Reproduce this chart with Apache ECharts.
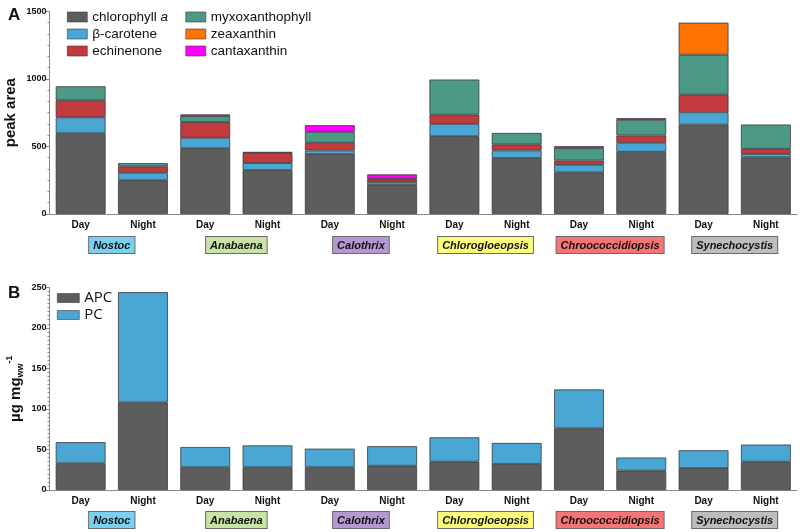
<!DOCTYPE html>
<html>
<head>
<meta charset="utf-8">
<script src="https://cdn.jsdelivr.net/npm/echarts@6/dist/echarts.min.js"></script>
<style>
html,body{margin:0;padding:0;background:#fff;}
#chart{width:800px;height:532px;}
</style>
</head>
<body>
<div id="chart"></div>
<script>
// ---- data ----
const conditions = ['Day','Night','Day','Night','Day','Night','Day','Night','Day','Night','Day','Night'];
const genera = ['Nostoc','Anabaena','Calothrix','Chlorogloeopsis','Chroococcidiopsis','Synechocystis'];
// panel A: peak area (stacked)
const chlorophyllA    = [597,250,487,325,443,214,576,414,308,460,662,419];
const betaCarotene    = [118, 55, 77, 52, 27, 20, 91, 56, 56, 67, 91, 26];
const echinenone      = [126, 47,116, 74, 57, 22, 69, 45, 32, 54,131, 37];
const myxoxanthophyll = [104, 25, 44,  9, 81,  5,259, 85, 91,116,295,180];
const zeaxanthin      = [  0,  0,  0,  0,  0,  0,  0,  0,  0,  0,237,  0];
const cantaxanthin    = [  0,  0, 13,  0, 49, 32,  0,  0, 15, 12,  0,  0];
// panel B: µg mg_ww^-1 (stacked)
const APC = [33,108,28,28,28,30,35,32,76,24,27,35];
const PC  = [26,136,25,27,23,24,30,26,48,16,22,21];
// axis ticks
const yTicksA = {min:0, max:1500, interval:500};
const yTicksB = {min:0, max:250, interval:50};

// ---- styles ----
const genusColors = ['#79d0f1','#c7e3a5','#b597d2','#fdfc79','#f67474','#bdbdbd'];
const colA = {
  chl:'#5d5d5d', beta:'#4aa6d2', ech:'#c03a3e', myxo:'#4c9a85', zea:'#ff7300', canta:'#ff00ff'
};
const FONT = '"Liberation Sans", Arial, sans-serif';

const chart = echarts.init(document.getElementById('chart'), null, {renderer:'canvas'});

const genusRich = {};
genusColors.forEach((c,i)=>{
  genusRich['g'+i] = {
    backgroundColor:c, borderColor:'#6a6a6a', borderWidth:1,
    padding:[3,4,2,4], fontSize:11, fontWeight:'bold', fontStyle:'italic',
    color:'#111', fontFamily:FONT
  };
});

function nz(arr){ return arr.map(v => v === 0 ? '-' : v); }

function barSeries(name, data, color, xi, yi, stack){
  return {
    name, type:'bar', stack, xAxisIndex:xi, yAxisIndex:yi,
    data:nz(data), barCategoryGap:'20%',
    itemStyle:{color, borderColor:'#3a3a3a', borderWidth:0.8},
    emphasis:{disabled:true}
  };
}

const catAxisBase = (gridIndex, margin) => ({
  type:'category', gridIndex, data:conditions, position:'bottom',
  axisLine:{lineStyle:{color:'#8a8a8a', width:1}},
  axisTick:{show:false},
  axisLabel:{color:'#111', fontSize:10, fontWeight:'bold', fontFamily:FONT, margin, interval:0}
});
const genusAxis = (gridIndex, margin) => ({
  type:'category', gridIndex, data:genera, position:'bottom',
  axisLine:{show:false}, axisTick:{show:false}, splitLine:{show:false},
  axisLabel:{interval:0, margin, formatter:(v,i)=>'{g'+i+'|'+v+'}', rich:genusRich}
});
const valAxisBase = (gridIndex, t, name, nameGap, nameTextStyle, minorSplit) => ({
  type:'value', gridIndex, min:t.min, max:t.max, interval:t.interval,
  name, nameLocation:'middle', nameGap, nameTextStyle, nameMoveOverlap:false,
  axisLine:{show:true, lineStyle:{color:'#8a8a8a', width:1}},
  axisTick:{show:true, length:4, lineStyle:{color:'#8a8a8a'}},
  minorTick:{show:true, splitNumber:minorSplit, length:2, lineStyle:{color:'#8a8a8a'}},
  splitLine:{show:false},
  axisLabel:{color:'#111', fontSize:9, fontWeight:'bold', fontFamily:FONT, margin:3,
    formatter:v => String(v)}
});

const legendText = {
  fontSize:13.5, color:'#111', fontFamily:FONT, lineHeight:16,
  rich:{ n:{fontSize:13.5, fontFamily:FONT, color:'#111'}, i:{fontSize:13.5, fontFamily:FONT, fontStyle:'italic', color:'#111'} }
};

const option = {
  animation:false,
  backgroundColor:'#fff',
  title:[
    {text:'A', left:3, top:2, textStyle:{fontSize:17, fontWeight:'bold', color:'#111', fontFamily:FONT}},
    {text:'B', left:3, top:280, textStyle:{fontSize:17, fontWeight:'bold', color:'#111', fontFamily:FONT}}
  ],
  grid:[
    {left:49.5, right:3, top:11.3, height:202.7, containLabel:false, outerBoundsMode:'none'},
    {left:49.5, right:3, top:287.3, height:202.7, containLabel:false, outerBoundsMode:'none'}
  ],
  legend:[
    {data:['chlorophyll a','β-carotene','echinenone'], orient:'vertical', left:67, top:9,
     padding:0, itemGap:1, itemWidth:20, itemHeight:10, icon:'rect',
     itemStyle:{borderWidth:0.6},
     textStyle:legendText,
     formatter:n => n === 'chlorophyll a' ? '{n|chlorophyll }{i|a}' : n},
    {data:['myxoxanthophyll','zeaxanthin','cantaxanthin'], orient:'vertical', left:185.5, top:9,
     padding:0, itemGap:1, itemWidth:20, itemHeight:10, icon:'rect',
     itemStyle:{borderWidth:0.6},
     textStyle:legendText},
    {data:['APC','PC'], orient:'vertical', left:57, top:290,
     padding:0, itemGap:1, itemWidth:22, itemHeight:9, icon:'rect',
     itemStyle:{borderWidth:0.6},
     textStyle:{fontSize:15, color:'#111', fontFamily:'"Open Sans", sans-serif', lineHeight:16}}
  ],
  xAxis:[
    catAxisBase(0, 6),
    genusAxis(0, 23),
    catAxisBase(1, 6),
    genusAxis(1, 22)
  ],
  yAxis:[
    valAxisBase(0, yTicksA, 'peak area', 31,
      {fontSize:15, fontWeight:'bold', color:'#111', fontFamily:FONT}, 6),
    valAxisBase(1, yTicksB, '{b|µg mg}{s|ww}{p|-1}', 24,
      {color:'#111', rich:{
        b:{fontSize:15, fontWeight:'bold', color:'#111', fontFamily:FONT, verticalAlign:'middle', lineHeight:20},
        s:{fontSize:9, fontWeight:'bold', color:'#111', fontFamily:FONT, verticalAlign:'bottom', lineHeight:20},
        p:{fontSize:9, fontWeight:'bold', color:'#111', fontFamily:FONT, verticalAlign:'top', lineHeight:20}
      }}, 10)
  ],
  series:[
    barSeries('chlorophyll a', chlorophyllA, colA.chl, 0, 0, 'A'),
    barSeries('β-carotene', betaCarotene, colA.beta, 0, 0, 'A'),
    barSeries('echinenone', echinenone, colA.ech, 0, 0, 'A'),
    barSeries('myxoxanthophyll', myxoxanthophyll, colA.myxo, 0, 0, 'A'),
    barSeries('zeaxanthin', zeaxanthin, colA.zea, 0, 0, 'A'),
    barSeries('cantaxanthin', cantaxanthin, colA.canta, 0, 0, 'A'),
    barSeries('APC', APC, colA.chl, 2, 1, 'B'),
    barSeries('PC', PC, colA.beta, 2, 1, 'B')
  ]
};
chart.setOption(option);
</script>
</body>
</html>
